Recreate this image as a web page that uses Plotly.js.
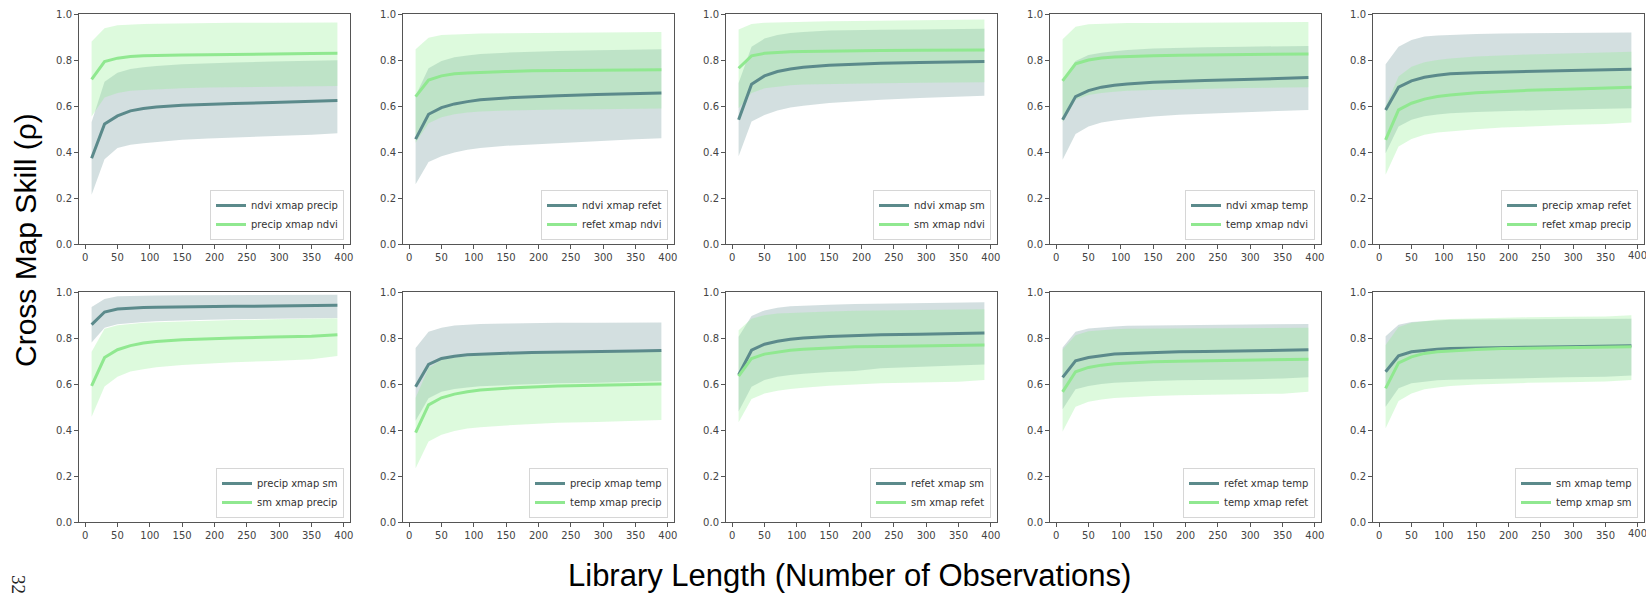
<!DOCTYPE html>
<html>
<head>
<meta charset="utf-8">
<script src="https://cdn.plot.ly/plotly-3.0.1.min.js"></script>
<style>html,body{margin:0;padding:0;background:#fff;}#chart{width:1646px;height:594px;}</style>
</head>
<body>
<div id="chart"></div>
<script>
// ---------------- DATA ----------------
const libLength = [10, 30, 50, 70, 90, 110, 150, 190, 230, 290, 350, 390];
const xTicks = [0, 50, 100, 150, 200, 250, 300, 350, 400];
const yTicks = [0, 0.2, 0.4, 0.6, 0.8, 1.0];
const yTickText = ['0.0', '0.2', '0.4', '0.6', '0.8', '1.0'];

// panel 1
const p1Labels = ['ndvi xmap precip', 'precip xmap ndvi'];
const p1DarkMean = [0.373,0.522,0.557,0.579,0.589,0.596,0.603,0.608,0.611,0.615,0.619,0.624];
const p1DarkHi   = [0.53,0.705,0.745,0.761,0.768,0.774,0.781,0.786,0.789,0.793,0.796,0.799];
const p1DarkLo   = [0.214,0.369,0.417,0.431,0.438,0.443,0.453,0.459,0.463,0.467,0.475,0.482];
const p1LightMean= [0.716,0.793,0.808,0.815,0.818,0.82,0.822,0.823,0.825,0.826,0.828,0.829];
const p1LightHi  = [0.88,0.938,0.951,0.955,0.957,0.958,0.96,0.961,0.962,0.962,0.963,0.963];
const p1LightLo  = [0.554,0.637,0.656,0.666,0.67,0.673,0.677,0.68,0.682,0.683,0.685,0.687];

// panel 2
const p2Labels = ['ndvi xmap refet', 'refet xmap ndvi'];
const p2DarkMean = [0.456,0.564,0.593,0.609,0.619,0.627,0.635,0.641,0.645,0.65,0.653,0.656];
const p2DarkHi   = [0.645,0.764,0.796,0.812,0.82,0.826,0.832,0.836,0.839,0.842,0.844,0.847];
const p2DarkLo   = [0.26,0.356,0.381,0.398,0.41,0.417,0.427,0.433,0.44,0.448,0.455,0.46];
const p2LightMean= [0.641,0.713,0.731,0.74,0.744,0.747,0.75,0.753,0.754,0.755,0.757,0.758];
const p2LightHi  = [0.847,0.897,0.909,0.912,0.914,0.915,0.916,0.918,0.919,0.92,0.921,0.922];
const p2LightLo  = [0.44,0.525,0.551,0.564,0.572,0.576,0.58,0.583,0.585,0.586,0.588,0.589];

// panel 3
const p3Labels = ['ndvi xmap sm', 'sm xmap ndvi'];
const p3DarkMean = [0.54,0.695,0.731,0.75,0.761,0.768,0.777,0.783,0.786,0.789,0.792,0.793];
const p3DarkHi   = [0.70,0.858,0.893,0.909,0.917,0.922,0.928,0.931,0.932,0.933,0.935,0.936];
const p3DarkLo   = [0.381,0.533,0.561,0.58,0.593,0.601,0.613,0.621,0.627,0.635,0.64,0.645];
const p3LightMean= [0.764,0.818,0.829,0.834,0.836,0.837,0.839,0.84,0.841,0.842,0.843,0.844];
const p3LightHi  = [0.933,0.957,0.962,0.964,0.966,0.967,0.969,0.97,0.971,0.973,0.975,0.976];
const p3LightLo  = [0.59,0.656,0.677,0.685,0.69,0.693,0.696,0.698,0.699,0.701,0.702,0.703];

// panel 4
const p4Labels = ['ndvi xmap temp', 'temp xmap ndvi'];
const p4DarkMean = [0.54,0.641,0.667,0.682,0.69,0.696,0.703,0.708,0.711,0.715,0.719,0.724];
const p4DarkHi   = [0.71,0.796,0.822,0.832,0.838,0.844,0.85,0.854,0.855,0.858,0.86,0.861];
const p4DarkLo   = [0.366,0.478,0.511,0.528,0.537,0.544,0.554,0.562,0.566,0.572,0.576,0.583];
const p4LightMean= [0.709,0.783,0.80,0.809,0.813,0.816,0.819,0.821,0.822,0.823,0.825,0.826];
const p4LightHi  = [0.89,0.945,0.955,0.958,0.96,0.961,0.961,0.962,0.962,0.963,0.964,0.965];
const p4LightLo  = [0.53,0.627,0.648,0.657,0.662,0.666,0.67,0.673,0.675,0.678,0.68,0.682];

// panel 5
const p5Labels = ['precip xmap refet', 'refet xmap precip'];
const p5DarkMean = [0.583,0.682,0.709,0.725,0.734,0.74,0.745,0.748,0.751,0.754,0.757,0.76];
const p5DarkHi   = [0.781,0.858,0.887,0.902,0.907,0.91,0.913,0.915,0.916,0.917,0.919,0.92];
const p5DarkLo   = [0.395,0.511,0.54,0.555,0.563,0.568,0.574,0.578,0.581,0.585,0.588,0.59];
const p5LightMean= [0.453,0.583,0.612,0.63,0.641,0.648,0.658,0.664,0.668,0.673,0.677,0.682];
const p5LightHi  = [0.60,0.728,0.771,0.79,0.80,0.807,0.815,0.82,0.824,0.828,0.832,0.836];
const p5LightLo  = [0.301,0.424,0.456,0.475,0.485,0.49,0.499,0.506,0.511,0.517,0.522,0.528];

// panel 6
const p6Labels = ['precip xmap sm', 'sm xmap precip'];
const p6DarkMean = [0.858,0.913,0.926,0.93,0.933,0.934,0.936,0.937,0.938,0.939,0.94,0.942];
const p6DarkHi   = [0.935,0.97,0.981,0.983,0.984,0.985,0.986,0.986,0.987,0.987,0.988,0.988];
const p6DarkLo   = [0.78,0.845,0.86,0.866,0.87,0.873,0.877,0.879,0.881,0.883,0.885,0.887];
const p6LightMean= [0.592,0.715,0.749,0.767,0.778,0.785,0.792,0.797,0.80,0.804,0.808,0.814];
const p6LightHi  = [0.74,0.84,0.855,0.862,0.866,0.869,0.873,0.876,0.878,0.881,0.883,0.886];
const p6LightLo  = [0.458,0.589,0.632,0.654,0.664,0.673,0.683,0.69,0.695,0.70,0.708,0.722];

// panel 7
const p7Labels = ['precip xmap temp', 'temp xmap precip'];
const p7DarkMean = [0.588,0.685,0.711,0.721,0.727,0.73,0.734,0.737,0.738,0.741,0.743,0.746];
const p7DarkHi   = [0.757,0.827,0.845,0.854,0.858,0.861,0.863,0.865,0.866,0.866,0.867,0.867];
const p7DarkLo   = [0.44,0.538,0.566,0.578,0.585,0.59,0.595,0.60,0.603,0.605,0.608,0.613];
const p7LightMean= [0.389,0.509,0.54,0.556,0.566,0.574,0.582,0.588,0.591,0.595,0.598,0.60];
const p7LightHi  = [0.54,0.67,0.705,0.715,0.72,0.725,0.73,0.733,0.735,0.738,0.74,0.742];
const p7LightLo  = [0.234,0.35,0.379,0.396,0.406,0.412,0.42,0.426,0.431,0.435,0.439,0.444];

// panel 8
const p8Labels = ['refet xmap sm', 'sm xmap refet'];
const p8DarkMean = [0.639,0.747,0.773,0.786,0.795,0.80,0.806,0.81,0.814,0.816,0.819,0.822];
const p8DarkHi   = [0.805,0.896,0.92,0.932,0.938,0.941,0.945,0.948,0.949,0.951,0.953,0.955];
const p8DarkLo   = [0.48,0.588,0.617,0.632,0.639,0.645,0.652,0.656,0.668,0.675,0.68,0.685];
const p8LightMean= [0.634,0.711,0.73,0.74,0.747,0.751,0.757,0.762,0.763,0.766,0.767,0.77];
const p8LightHi  = [0.834,0.884,0.899,0.906,0.909,0.912,0.915,0.918,0.919,0.921,0.923,0.925];
const p8LightLo  = [0.434,0.535,0.559,0.571,0.578,0.584,0.592,0.598,0.603,0.607,0.61,0.617];

// panel 9
const p9Labels = ['refet xmap temp', 'temp xmap refet'];
const p9DarkMean = [0.629,0.701,0.715,0.724,0.73,0.733,0.737,0.74,0.741,0.744,0.746,0.749];
const p9DarkHi   = [0.759,0.827,0.841,0.847,0.85,0.853,0.854,0.855,0.857,0.858,0.86,0.861];
const p9DarkLo   = [0.49,0.577,0.591,0.60,0.605,0.608,0.613,0.616,0.617,0.62,0.624,0.629];
const p9LightMean= [0.566,0.653,0.672,0.682,0.688,0.692,0.697,0.699,0.701,0.704,0.705,0.708];
const p9LightHi  = [0.75,0.812,0.829,0.835,0.838,0.84,0.841,0.842,0.843,0.844,0.844,0.845];
const p9LightLo  = [0.393,0.501,0.523,0.533,0.539,0.543,0.548,0.551,0.552,0.555,0.558,0.566];

// panel 10
const p10Labels = ['sm xmap temp', 'temp xmap sm'];
const p10DarkMean = [0.653,0.723,0.74,0.747,0.751,0.754,0.757,0.759,0.76,0.762,0.764,0.766];
const p10DarkHi   = [0.808,0.858,0.87,0.874,0.877,0.879,0.88,0.882,0.882,0.883,0.884,0.884];
const p10DarkLo   = [0.501,0.581,0.603,0.611,0.616,0.618,0.621,0.624,0.626,0.629,0.632,0.637];
const p10LightMean= [0.581,0.692,0.718,0.733,0.74,0.744,0.75,0.754,0.756,0.759,0.76,0.762];
const p10LightHi  = [0.77,0.848,0.866,0.874,0.88,0.883,0.886,0.888,0.89,0.892,0.894,0.899];
const p10LightLo  = [0.408,0.526,0.559,0.577,0.585,0.591,0.598,0.603,0.605,0.608,0.611,0.617];

const yTitle = 'Cross Map Skill (ρ)';
const xTitle = 'Library Length (Number of Observations)';
const pageNumber = '32';

// ---------------- BUILD ----------------
const panels = [
  [p1Labels, p1DarkMean, p1DarkHi, p1DarkLo, p1LightMean, p1LightHi, p1LightLo],
  [p2Labels, p2DarkMean, p2DarkHi, p2DarkLo, p2LightMean, p2LightHi, p2LightLo],
  [p3Labels, p3DarkMean, p3DarkHi, p3DarkLo, p3LightMean, p3LightHi, p3LightLo],
  [p4Labels, p4DarkMean, p4DarkHi, p4DarkLo, p4LightMean, p4LightHi, p4LightLo],
  [p5Labels, p5DarkMean, p5DarkHi, p5DarkLo, p5LightMean, p5LightHi, p5LightLo],
  [p6Labels, p6DarkMean, p6DarkHi, p6DarkLo, p6LightMean, p6LightHi, p6LightLo],
  [p7Labels, p7DarkMean, p7DarkHi, p7DarkLo, p7LightMean, p7LightHi, p7LightLo],
  [p8Labels, p8DarkMean, p8DarkHi, p8DarkLo, p8LightMean, p8LightHi, p8LightLo],
  [p9Labels, p9DarkMean, p9DarkHi, p9DarkLo, p9LightMean, p9LightHi, p9LightLo],
  [p10Labels, p10DarkMean, p10DarkHi, p10DarkLo, p10LightMean, p10LightHi, p10LightLo]
];

const W = 1646, H = 594;
const colLeft = [79, 403, 726, 1050, 1373];
const panelW = 271;
const rowTop = [14, 292];
const panelH = 230;

const darkLine = '#5b8a8b';
const darkFill = 'rgba(91,138,139,0.27)';
const lightLine = '#90e890';
const lightFill = 'rgba(144,238,144,0.30)';
const tickFont = {family: 'DejaVu Sans', size: 10, color: '#444'};

const data = [];
const layout = {
  width: W, height: H,
  margin: {l: 0, r: 0, t: 0, b: 0},
  paper_bgcolor: '#fff', plot_bgcolor: '#fff',
  showlegend: true,
  annotations: []
};

panels.forEach((p, i) => {
  const [labels, dMean, dHi, dLo, lMean, lHi, lLo] = p;
  const row = i < 5 ? 0 : 1, col = i % 5;
  const sfx = i === 0 ? '' : String(i + 1);
  const xa = 'x' + sfx, ya = 'y' + sfx, lg = 'legend' + sfx;
  const left = colLeft[col], top = rowTop[row];
  const lastCol = col === 4;
  const axCommon = {
    showline: true, mirror: true, linecolor: '#555', linewidth: 1,
    ticks: 'outside', ticklen: 4, tickcolor: '#555', tickwidth: 1,
    tickfont: tickFont,
    ticklabeloverflow: 'allow',
    showgrid: false, zeroline: false, fixedrange: true
  };
  layout['xaxis' + sfx] = Object.assign({}, axCommon, {
    domain: [left / W, (left + panelW) / W],
    range: [-9.5, 409.5], tickvals: xTicks,
    ticktext: xTicks.map((v, k) => (lastCol && k === xTicks.length - 1) ? '' : String(v)),
    anchor: ya
  });
  layout['yaxis' + sfx] = Object.assign({}, axCommon, {
    domain: [1 - (top + panelH) / H, 1 - top / H],
    range: [0, 1], tickvals: yTicks, ticktext: yTickText,
    anchor: xa
  });
  if (lastCol) {
    // the right-most "400" label runs off the page edge; draw it explicitly
    layout.annotations.push({
      text: String(xTicks[xTicks.length - 1]), xref: xa, x: xTicks[xTicks.length - 1],
      yref: 'paper', y: 1 - (top + panelH + 5) / H, xanchor: 'center', yanchor: 'top',
      showarrow: false, font: tickFont, borderpad: 0
    });
  }
  layout[lg] = {
    x: (left + panelW - 6) / W, y: 1 - (top + panelH - 4) / H,
    xanchor: 'right', yanchor: 'bottom', xref: 'paper', yref: 'paper',
    bgcolor: 'rgba(255,255,255,0.85)', bordercolor: '#d6d6d6', borderwidth: 1,
    font: {family: 'DejaVu Sans', size: 10, color: '#333'},
    itemwidth: 30, traceorder: 'normal', tracegroupgap: 0
  };
  const band = (hi, lo, fc) => {
    data.push({x: libLength, y: hi, xaxis: xa, yaxis: ya, mode: 'lines',
      line: {width: 0, color: fc}, showlegend: false, hoverinfo: 'skip'});
    data.push({x: libLength, y: lo, xaxis: xa, yaxis: ya, mode: 'lines',
      line: {width: 0, color: fc}, fill: 'tonexty', fillcolor: fc,
      showlegend: false, hoverinfo: 'skip'});
  };
  band(dHi, dLo, darkFill);
  band(lHi, lLo, lightFill);
  data.push({x: libLength, y: dMean, xaxis: xa, yaxis: ya, mode: 'lines',
    name: labels[0], legend: lg, line: {color: darkLine, width: 3}});
  data.push({x: libLength, y: lMean, xaxis: xa, yaxis: ya, mode: 'lines',
    name: labels[1], legend: lg, line: {color: lightLine, width: 3}});
});

layout.annotations.push({
  text: yTitle, xref: 'paper', yref: 'paper', x: 26 / W, y: 1 - 240 / H,
  xanchor: 'center', yanchor: 'middle', textangle: -90, showarrow: false,
  font: {family: 'Liberation Sans, Arial, sans-serif', size: 30, color: '#000'}
});
layout.annotations.push({
  text: xTitle, xref: 'paper', yref: 'paper', x: 849 / W, y: 1 - 575 / H,
  xanchor: 'center', yanchor: 'middle', showarrow: false,
  font: {family: 'Liberation Sans, Arial, sans-serif', size: 31, color: '#000'}
});
layout.annotations.push({
  text: pageNumber, xref: 'paper', yref: 'paper', x: 19 / W, y: 1 - 584 / H,
  xanchor: 'center', yanchor: 'middle', textangle: 90, showarrow: false,
  font: {family: 'Liberation Serif, serif', size: 19, color: '#222'}
});

Plotly.newPlot('chart', data, layout, {displayModeBar: false, staticPlot: true});
</script>
</body>
</html>
